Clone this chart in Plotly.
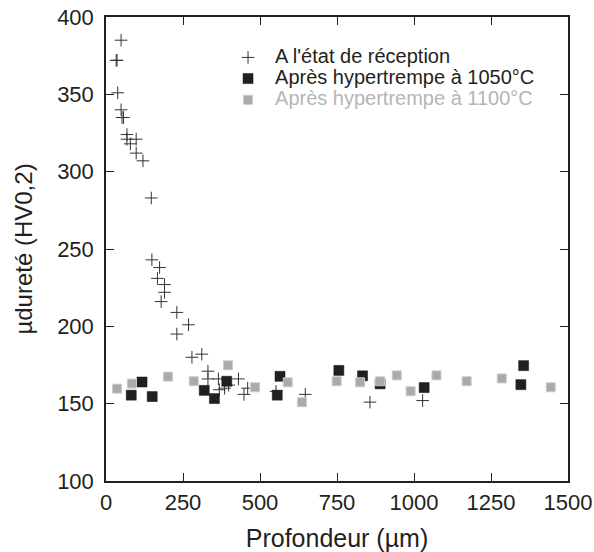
import plotly.graph_objects as go

# depth (um) / hardness (HV0,2)
recu_x = [49, 33, 36, 38, 49, 52, 57, 68, 68, 79, 98, 98, 120, 147, 149, 174, 167, 190,
          190, 179, 230, 230, 268, 279, 311, 331, 331, 365, 368, 385, 398, 430, 460, 448,
          552, 647, 857, 1028]
recu_y = [385, 372, 372, 351, 340, 335, 335, 324, 321, 318, 321, 312, 307, 283, 243, 238,
          231, 227, 222, 216, 209, 195, 201, 180, 182, 171, 166, 166, 159, 160, 162, 166,
          160, 156, 158, 156, 151, 152]

t1050_x = [82, 117, 150, 319, 352, 392, 556, 565, 756, 833, 890, 1033, 1347, 1356]
t1050_y = [155.5, 164, 154.6, 158.6, 153.3, 164.5, 155.5, 167.7, 171.5, 168, 162.8, 160.4,
           162.3, 174.6]

t1100_x = [36, 84, 201, 285, 396, 484, 590, 636, 749, 825, 890, 944, 989, 1073, 1171,
           1285, 1444]
t1100_y = [159.7, 163, 167.5, 164.5, 174.8, 160.6, 163.8, 150.9, 164.5, 163.8, 164.5,
           168.3, 158, 168.3, 164.5, 166.3, 160.6]

x_ticks = [0, 250, 500, 750, 1000, 1250, 1500]
y_ticks = [100, 150, 200, 250, 300, 350, 400]

noir = "#231f20"
gris = "#aaaaaa"

fig = go.Figure()
fig.add_trace(go.Scatter(
    x=recu_x, y=recu_y, mode="markers",
    name="<span style='font-size:20px'>A l'état de réception</span>",
    marker=dict(symbol="cross-thin", size=9, line=dict(width=1, color="#333333"))))
fig.add_trace(go.Scatter(
    x=t1050_x, y=t1050_y, mode="markers",
    name="<span style='font-size:20px'>Après hypertrempe à 1050°C</span>",
    marker=dict(symbol="square", size=10, color=noir, line=dict(width=0.5, color="#111111"))))
fig.add_trace(go.Scatter(
    x=t1100_x, y=t1100_y, mode="markers",
    name="<span style='font-size:20px;color:#b5b5b5'>Après hypertrempe à 1100°C</span>",
    marker=dict(symbol="square", size=9, color=gris, line=dict(width=1, color="#cccccc"))))

axe = dict(showline=True, linecolor=noir, linewidth=1.5, mirror="ticks",
           ticks="inside", ticklen=8, tickcolor=noir, tickwidth=1,
           showgrid=False, zeroline=False, automargin=False,
           tickfont=dict(size=22, color=noir))

fig.update_xaxes(axe, range=[0, 1500], tickvals=x_ticks, ticklabelstandoff=1,
                 title=dict(text="Profondeur (µm)", font=dict(size=25, color=noir), standoff=15))
fig.update_yaxes(axe, range=[100, 400], tickvals=y_ticks, ticklabelstandoff=6,
                 title=dict(text="µdureté (HV0,2)", font=dict(size=24, color=noir), standoff=18))

fig.update_layout(
    width=594, height=552,
    margin=dict(l=106, r=26, t=17, b=71),
    plot_bgcolor="white", paper_bgcolor="white",
    font=dict(family="Liberation Sans, Arial, Helvetica, sans-serif", color=noir),
    legend=dict(x=0.249, y=0.9465, xanchor="left", yanchor="top", itemwidth=44,
                bgcolor="rgba(0,0,0,0)", font=dict(size=14, color=noir)),
)

# drop the default 8px page margin so the figure fills the window
fig.write_html("out.html", config={"displayModeBar": False},
               post_script="document.body.style.margin = '0';")
